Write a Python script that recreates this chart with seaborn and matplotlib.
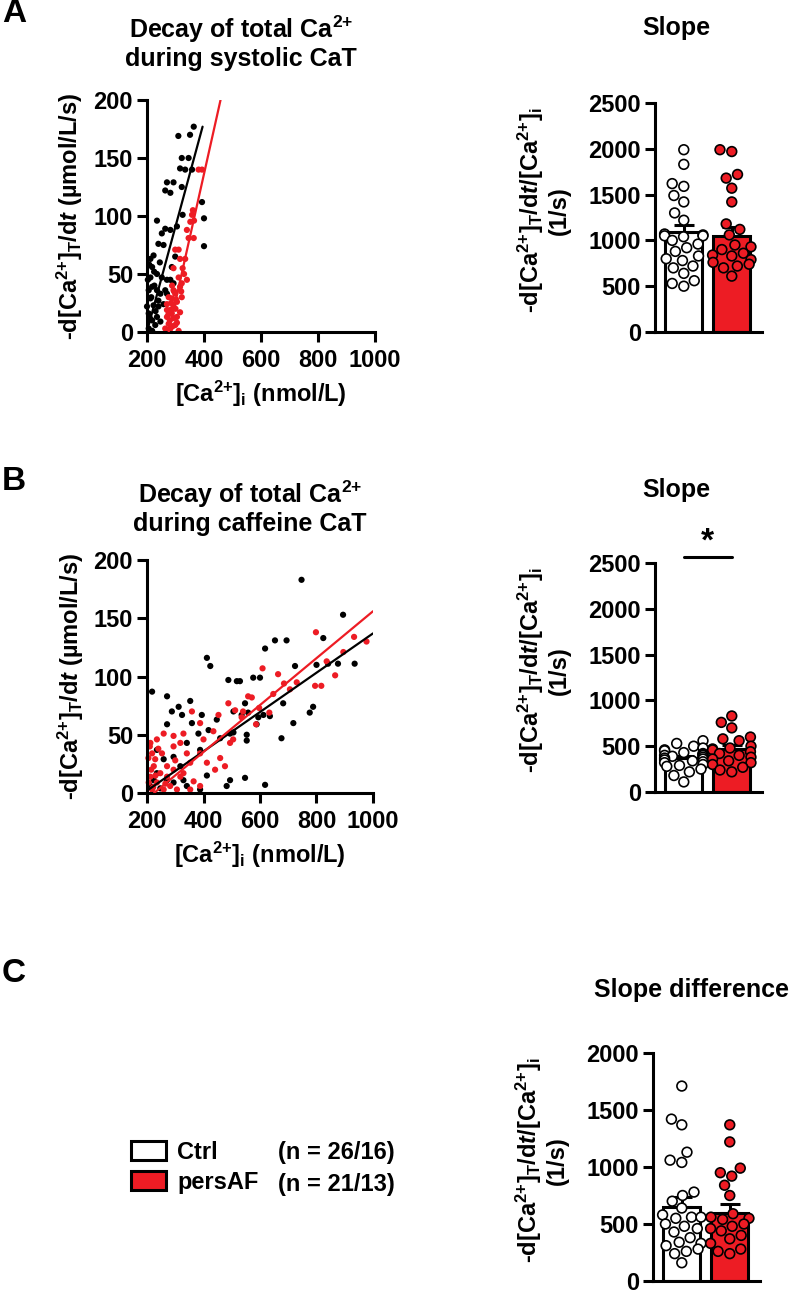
import pandas as pd
import seaborn as sns
import matplotlib.pyplot as plt
from matplotlib.patches import Patch

# ---- values ----
groups = ['Ctrl', 'persAF']
n_labels = ['(n = 26/16)', '(n = 21/13)']

# A: decay of total Ca during systolic CaT
a_ctrl_x = [364, 310, 351, 322, 346, 316, 334, 358, 270, 293, 264, 282, 322, 325, 393, 400, 400,
            235, 264, 252, 282, 305, 299, 223, 240, 258, 212, 218, 235, 212, 252, 270, 287, 282,
            218, 235, 247, 264, 212, 223, 240, 258, 206, 218, 229, 235, 247, 206, 218, 200, 206,
            240, 270, 293, 203, 208, 215, 226, 210, 230, 245, 225]
a_ctrl_y = [177, 169, 170, 150, 150, 141, 140, 140, 129, 129, 122, 120, 125, 101, 112, 98, 74,
            96, 89, 85, 88, 91, 65, 66, 76, 75, 63, 56, 50, 47, 47, 45, 56, 45,
            39, 36, 33, 36, 29, 23, 22, 24, 16, 10, 6, 13, 9, 3, 1, 22, 36,
            27, 33, 42, 45, 58, 30, 40, 12, 18, 60, 52]
a_af_x = [381, 393, 361, 358, 365, 352, 340, 346, 364, 299, 311, 316, 334, 325, 293, 311, 340,
          316, 293, 322, 276, 287, 305, 270, 293, 282, 316, 270, 293, 276, 299, 282, 311, 264,
          305, 287, 270, 299, 322, 280, 285, 290, 300, 275, 295, 305, 288, 278, 302, 330, 320]
a_af_y = [140, 140, 105, 101, 96, 95, 88, 81, 81, 71, 71, 63, 63, 55, 55, 47, 45,
          39, 36, 30, 30, 29, 26, 24, 22, 19, 17, 13, 12, 7, 6, 3, 1, 3,
          13, 16, 19, 33, 42, 10, 25, 5, 20, 15, 35, 8, 40, 2, 28, 50, 35]
a_ctrl_fit_x = [205, 395]
a_ctrl_fit_y = [5, 177]
a_af_fit_x = [276, 458]
a_af_fit_y = [0, 200]

# B: decay of total Ca during caffeine CaT
b_ctrl_x = [747, 894, 824, 694, 653, 618, 935, 876, 800, 724, 412, 424, 488, 518, 529, 576, 600,
            841, 788, 776, 718, 676, 612, 635, 547, 535, 506, 447, 418, 394, 353, 312, 288, 271,
            218, 271, 324, 359, 382, 341, 388, 459, 494, 553, 588, 494, 412, 547, 618, 482, 388,
            235, 259, 294, 318, 235, 271, 212, 224, 247, 294, 329, 341, 558, 594, 682, 553, 506]
b_ctrl_y = [183, 153, 133, 131, 131, 124, 111, 111, 110, 109, 116, 109, 97, 96, 96, 99, 99,
            111, 74, 69, 60, 47, 67, 66, 77, 67, 70, 63, 54, 67, 79, 74, 70, 83,
            87, 59, 67, 60, 51, 43, 37, 47, 51, 50, 59, 11, 15, 13, 7, 6, 3,
            37, 29, 31, 23, 17, 11, 6, 11, 4, 9, 11, 6, 69, 65, 77, 45, 52]
b_af_x = [798, 933, 977, 895, 836, 866, 817, 795, 730, 706, 685, 664, 647, 609, 633, 597, 586,
          558, 571, 540, 535, 512, 505, 488, 453, 435, 388, 359, 329, 318, 400, 388, 459, 441,
          494, 353, 329, 365, 388, 294, 271, 247, 224, 218, 235, 212, 259, 294, 235, 218, 259,
          282, 306, 212, 229, 253, 271, 294, 341, 412, 476, 318, 353, 206, 205, 215, 222, 240,
          265, 300, 210, 230]
b_af_y = [138, 134, 130, 121, 113, 101, 92, 92, 95, 89, 94, 102, 85, 107, 69, 73, 59,
          83, 82, 70, 65, 71, 46, 77, 67, 53, 60, 70, 51, 43, 46, 34, 30, 20,
          43, 26, 17, 10, 6, 20, 23, 17, 23, 34, 46, 43, 51, 40, 9, 3, 3,
          6, 3, 14, 29, 34, 14, 49, 34, 26, 23, 14, 3, 9, 30, 20, 5, 38,
          8, 28, 40, 15]
b_ctrl_fit_x = [200, 1000]
b_ctrl_fit_y = [2, 137]
b_af_fit_x = [225, 1000]
b_af_fit_y = [0, 156]

# slopes per cell (1/s)
slope_a_ctrl = [1990, 1830, 1620, 1590, 1490, 1420, 1300, 1220, 1070, 1060, 1050, 1050, 1040,
                1000, 960, 920, 880, 830, 800, 780, 720, 700, 640, 560, 530, 500]
slope_a_af = [1990, 1970, 1720, 1680, 1570, 1420, 1180, 1120, 1060, 950, 930, 900, 860, 840,
              830, 790, 760, 740, 720, 700, 610]
slope_a_mean = [1090, 1045]
slope_a_sem = [75, 105]

slope_b_ctrl = [560, 530, 500, 480, 460, 450, 430, 420, 410, 400, 400, 390, 380, 370, 360, 350,
                340, 330, 320, 300, 290, 280, 250, 220, 180, 110]
slope_b_af = [830, 760, 700, 600, 580, 560, 500, 480, 470, 460, 440, 420, 400, 380, 360, 340,
              320, 300, 270, 240, 220]
slope_b_mean = [375, 470]
slope_b_sem = [22, 38]

diff_ctrl = [1710, 1420, 1370, 1130, 1060, 1040, 780, 750, 700, 640, 580, 560, 560, 550, 500,
             480, 460, 430, 380, 340, 330, 310, 280, 260, 240, 160]
diff_af = [1370, 1220, 990, 950, 920, 840, 750, 590, 560, 550, 540, 500, 480, 460, 440, 400,
           370, 330, 280, 260, 240]
diff_mean = [650, 600]
diff_sem = [88, 78]

RED = '#ED1C24'
dot_colors = {'Ctrl': 'black', 'persAF': RED}
fill_colors = {'Ctrl': 'white', 'persAF': RED}

sns.set_style('ticks', rc={'axes.edgecolor': 'black', 'text.color': 'black',
                           'axes.labelcolor': 'black', 'xtick.color': 'black',
                           'ytick.color': 'black'})
plt.rcParams['font.family'] = ['Liberation Sans', 'DejaVu Sans']
plt.rcParams['font.weight'] = 'bold'
plt.rcParams['axes.labelweight'] = 'bold'
plt.rcParams['mathtext.fontset'] = 'custom'
plt.rcParams['mathtext.rm'] = 'Liberation Sans:bold'
plt.rcParams['mathtext.bf'] = 'Liberation Sans:bold'
plt.rcParams['mathtext.it'] = 'Liberation Sans:bold:italic'
plt.rcParams['mathtext.default'] = 'bf'

FS = 17
LW = 2.2
W, H = 800, 1294


def box(l, t, r, b):
    return [l / W, 1 - b / H, (r - l) / W, (b - t) / H]


def style_axis(ax):
    sns.despine(ax=ax)
    for s in ['left', 'bottom']:
        ax.spines[s].set_linewidth(LW)
    ax.tick_params(width=LW, length=7, labelsize=FS, pad=3, color='black')


CA = r'Ca$^{2{+}}$'
ylab_scatter = '-d[' + CA + r']$_{T}$/d$\mathit{t}$ (µmol/L/s)'
xlab_scatter = '[' + CA + r']$_{i}$ (nmol/L)'
ylab_bar = '-d[' + CA + r']$_{T}$/d$\mathit{t}$/[' + CA + ']$_{i}$\n(1/s)'


def scatter_panel(ax, cx, cy, fx, fy, cfx, cfy, ffx, ffy):
    df = pd.DataFrame({'x': cx + fx, 'y': cy + fy,
                       'group': ['Ctrl'] * len(cx) + ['persAF'] * len(fx)})
    sns.scatterplot(data=df, x='x', y='y', hue='group', palette=dot_colors, s=20,
                    linewidth=0, legend=False, ax=ax, clip_on=False, zorder=2)
    fit = pd.DataFrame({'x': cfx + ffx, 'y': cfy + ffy,
                        'group': ['Ctrl'] * len(cfx) + ['persAF'] * len(ffx)})
    sns.lineplot(data=fit, x='x', y='y', hue='group', palette=dot_colors, lw=1.6,
                 legend=False, ax=ax, zorder=3)
    ax.set_xlim(200, 1000)
    ax.set_ylim(0, 200)
    ax.set_xticks([200, 400, 600, 800, 1000])
    ax.set_yticks([0, 50, 100, 150, 200])
    style_axis(ax)
    ax.tick_params(axis='x', pad=5)
    ax.set_xlabel(xlab_scatter, fontsize=FS, va='center')
    ax.set_ylabel(ylab_scatter, fontsize=FS, va='center')
    ax.xaxis.set_label_coords(0.5, -0.267)
    ax.yaxis.set_label_coords(-0.338, 0.5)


def bar_panel(ax, ctrl, af, means, sems, ymax):
    sns.barplot(x=groups, y=means, hue=groups, palette=fill_colors, saturation=1,
                edgecolor='black', linewidth=LW, width=0.77, legend=False, ax=ax, zorder=1)
    ax.errorbar([0, 1], means, yerr=[[0, 0], sems], fmt='none', ecolor='black',
                elinewidth=LW, capsize=7, capthick=LW, zorder=2)
    pts = pd.DataFrame({'group': ['Ctrl'] * len(ctrl) + ['persAF'] * len(af),
                        'value': ctrl + af})
    sns.swarmplot(data=pts, x='group', y='value', hue='group', order=groups,
                  palette=fill_colors, size=7, edgecolor='black', linewidth=1.2,
                  legend=False, ax=ax, zorder=3, warn_thresh=1)
    ax.set_xlim(-0.6, 1.63)
    ax.set_ylim(0, ymax)
    ax.set_yticks(range(0, ymax + 1, 500))
    ax.set_xticks([])
    ax.set_xlabel('')
    style_axis(ax)
    ax.set_ylabel(ylab_bar, fontsize=FS, va='center', linespacing=1.1)
    ax.yaxis.set_label_coords(-1.047, 0.53)


fig = plt.figure(figsize=(8, 12.94), dpi=100)

ax_a = fig.add_axes(box(147, 100, 375, 332))
ax_a2 = fig.add_axes(box(655, 103, 762, 332))
ax_b = fig.add_axes(box(147, 560, 373, 793))
ax_b2 = fig.add_axes(box(655, 563, 762, 792))
ax_c2 = fig.add_axes(box(653, 1053, 760, 1281))

scatter_panel(ax_a, a_ctrl_x, a_ctrl_y, a_af_x, a_af_y,
              a_ctrl_fit_x, a_ctrl_fit_y, a_af_fit_x, a_af_fit_y)
scatter_panel(ax_b, b_ctrl_x, b_ctrl_y, b_af_x, b_af_y,
              b_ctrl_fit_x, b_ctrl_fit_y, b_af_fit_x, b_af_fit_y)
bar_panel(ax_a2, slope_a_ctrl, slope_a_af, slope_a_mean, slope_a_sem, 2500)
bar_panel(ax_b2, slope_b_ctrl, slope_b_af, slope_b_mean, slope_b_sem, 2500)
bar_panel(ax_c2, diff_ctrl, diff_af, diff_mean, diff_sem, 2000)

# significance marker on B slope
ax_b2.plot([0, 1], [2570, 2570], color='black', lw=LW, clip_on=False)
ax_b2.text(0.5, 2560, '*', ha='center', va='bottom', fontsize=24)

# titles and panel letters
fig.text(241 / W, 1 - 42 / H, 'Decay of total ' + CA + '\nduring systolic CaT',
         ha='center', va='center', fontsize=18, linespacing=1.1)
fig.text(250 / W, 1 - 507 / H, 'Decay of total ' + CA + '\nduring caffeine CaT',
         ha='center', va='center', fontsize=18, linespacing=1.1)
fig.text(676 / W, 1 - 28 / H, 'Slope', ha='center', va='center', fontsize=18)
fig.text(676 / W, 1 - 490 / H, 'Slope', ha='center', va='center', fontsize=18)
fig.text(691 / W, 1 - 990 / H, 'Slope difference', ha='center', va='center', fontsize=18)
for letter, y in zip(['A', 'B', 'C'], [14, 482, 974]):
    fig.text(2 / W, 1 - y / H, letter, ha='left', va='center', fontsize=24)

# legend
handles = [Patch(facecolor=fill_colors[g], edgecolor='black', lw=LW, label=g) for g in groups]
fig.legend(handles=handles, loc='upper left', bbox_to_anchor=(131 / W, 1 - 1141 / H),
           frameon=False, fontsize=FS, handlelength=1.5, handleheight=0.85,
           handletextpad=0.45, labelspacing=0.3, borderpad=0, borderaxespad=0)
for lab, y in zip(n_labels, [1153, 1184]):
    fig.text(278 / W, 1 - y / H, lab, ha='left', va='center', fontsize=FS)

fig.savefig('out.png', dpi=100)
